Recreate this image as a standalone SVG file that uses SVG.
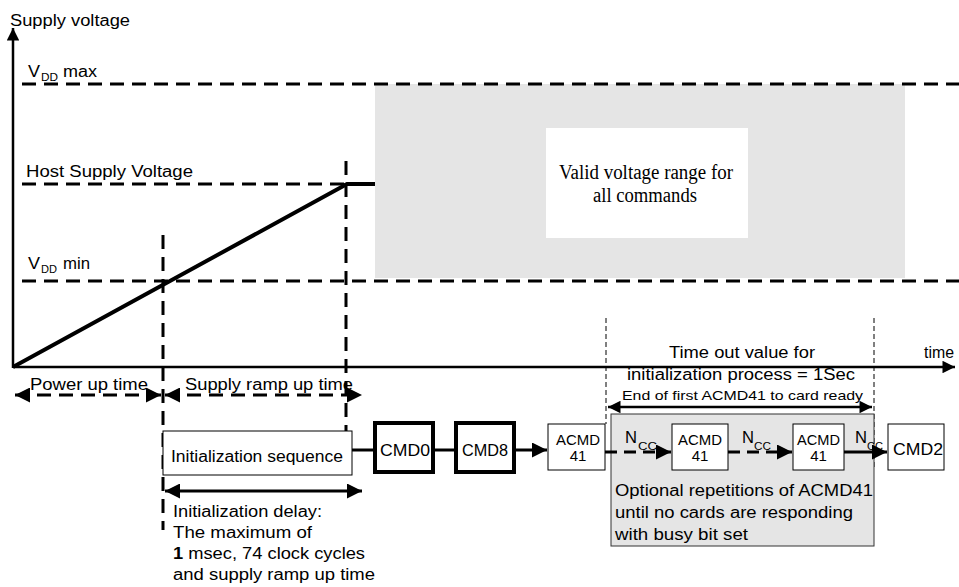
<svg xmlns="http://www.w3.org/2000/svg" width="959" height="587" viewBox="0 0 959 587">
<defs>
<marker id="ah" viewBox="0 0 10 10" refX="10" refY="5" markerWidth="6" markerHeight="5" markerUnits="strokeWidth" orient="auto-start-reverse"><path d="M0,0 L10,5 L0,10 z" fill="#000"/></marker>
<style>
text{font-family:"Liberation Sans",Arial,sans-serif;fill:#000}
.t{font-size:16px}
.s{font-size:15px}
.sub{font-size:11px}
.cc{font-size:10px}
.serif{font-family:"Liberation Serif","Times New Roman",serif;font-size:20px}
.dash{stroke:#000;stroke-width:3;stroke-dasharray:14 8;fill:none}
.thin{stroke:#000;stroke-width:1;stroke-dasharray:5 3;fill:none}
.box{fill:#fff;stroke:#000;stroke-width:1}
.bold{fill:#fff;stroke:#000;stroke-width:4}
.ln{stroke:#000;fill:none}
</style>
</defs>
<rect width="959" height="587" fill="#fff"/>
<g id="valid">
<rect x="375" y="84" width="530" height="194" fill="#e5e5e5"/>
<rect x="546" y="128" width="202" height="110" fill="#fff"/>
<text class="serif" x="559" y="179" textLength="174" lengthAdjust="spacingAndGlyphs">Valid voltage range for</text>
<text class="serif" x="593" y="202" textLength="104" lengthAdjust="spacingAndGlyphs">all commands</text>
</g>
<g id="levels">
<line class="dash" x1="22" y1="84" x2="959" y2="84"/>
<line class="dash" x1="22" y1="184" x2="347" y2="184"/>
<line class="dash" x1="22" y1="281" x2="959" y2="281"/>
<text class="t" x="10" y="26" textLength="120" lengthAdjust="spacingAndGlyphs">Supply voltage</text>
<text class="t" x="28" y="77" textLength="12" lengthAdjust="spacingAndGlyphs">V</text><text class="sub" x="41" y="81" textLength="17" lengthAdjust="spacingAndGlyphs">DD</text><text class="t" x="63" y="77" textLength="34" lengthAdjust="spacingAndGlyphs">max</text>
<text class="t" x="26" y="177" textLength="167" lengthAdjust="spacingAndGlyphs">Host Supply Voltage</text>
<text class="t" x="28" y="269" textLength="12" lengthAdjust="spacingAndGlyphs">V</text><text class="sub" x="41" y="273" textLength="16" lengthAdjust="spacingAndGlyphs">DD</text><text class="t" x="63" y="269" textLength="27" lengthAdjust="spacingAndGlyphs">min</text>
<text class="t" x="924" y="358" textLength="30" lengthAdjust="spacingAndGlyphs">time</text>
</g>
<g id="axes">
<line class="ln" stroke-width="2.5" x1="13" y1="368" x2="13" y2="28" marker-end="url(#ah)"/>
<line class="ln" stroke-width="2.5" x1="13" y1="367" x2="955" y2="367" marker-end="url(#ah)"/>
</g>
<g id="ramp">
<polyline class="ln" stroke-width="4" points="13,367 347,184 375,184"/>
<line class="dash" x1="163" y1="235" x2="163" y2="530"/>
<line class="dash" x1="346" y1="161" x2="346" y2="431"/>
</g>
<g id="spans">
<line class="dash" x1="15" y1="395" x2="161" y2="395" marker-start="url(#ah)" marker-end="url(#ah)"/>
<text class="t" x="30" y="390" textLength="118" lengthAdjust="spacingAndGlyphs">Power up time</text>
<line class="dash" x1="165" y1="395" x2="362" y2="395" marker-start="url(#ah)" marker-end="url(#ah)"/>
<text class="t" x="185" y="390" textLength="168" lengthAdjust="spacingAndGlyphs">Supply ramp up time</text>
<line class="ln" stroke-width="3" x1="165" y1="491" x2="362" y2="491" marker-start="url(#ah)" marker-end="url(#ah)"/>
<text class="t" x="173" y="517" textLength="149" lengthAdjust="spacingAndGlyphs">Initialization delay:</text>
<text class="t" x="173" y="538" textLength="139" lengthAdjust="spacingAndGlyphs">The maximum of</text>
<text class="t" x="173" y="559" textLength="192" lengthAdjust="spacingAndGlyphs"><tspan font-weight="bold">1</tspan> msec, 74 clock cycles</text>
<text class="t" x="173" y="580" textLength="202" lengthAdjust="spacingAndGlyphs">and supply ramp up time</text>
<line class="thin" x1="606" y1="318" x2="606" y2="424"/>
<line class="thin" x1="874" y1="318" x2="874" y2="470"/>
<text class="t" x="669" y="358" textLength="146" lengthAdjust="spacingAndGlyphs">Time out value for</text>
<text class="t" x="627" y="380" textLength="228" lengthAdjust="spacingAndGlyphs">initialization process = 1Sec</text>
<text x="622" y="400" font-size="13" textLength="241" lengthAdjust="spacingAndGlyphs">End of first ACMD41 to card ready</text>
<line class="ln" stroke-width="2.5" x1="608" y1="407" x2="872" y2="407" marker-start="url(#ah)" marker-end="url(#ah)"/>
</g>
<g id="optional">
<rect x="611" y="414" width="263" height="132" fill="#e5e5e5" stroke="#333" stroke-width="1"/>
<text class="t" x="615" y="496" textLength="258" lengthAdjust="spacingAndGlyphs">Optional repetitions of ACMD41</text>
<text class="t" x="615" y="518" textLength="238" lengthAdjust="spacingAndGlyphs">until no cards are responding</text>
<text class="t" x="615" y="540" textLength="133" lengthAdjust="spacingAndGlyphs">with busy bit set</text>
</g>
<g id="connectors">
<line class="ln" stroke-width="3" x1="351" y1="450" x2="375" y2="450"/>
<line class="ln" stroke-width="3" x1="433" y1="450" x2="456" y2="450"/>
<line class="ln" stroke-width="3" x1="514" y1="450" x2="547" y2="450" marker-end="url(#ah)"/>
<line class="dash" style="stroke-dasharray:12 7" x1="605" y1="452" x2="671" y2="452" marker-end="url(#ah)"/>
<line class="dash" style="stroke-dasharray:12 7" x1="728" y1="452" x2="792" y2="452" marker-end="url(#ah)"/>
<line class="ln" stroke-width="3" x1="844" y1="452" x2="887" y2="452" marker-end="url(#ah)"/>
<text class="t" x="625" y="443" textLength="12" lengthAdjust="spacingAndGlyphs">N</text><text class="cc" x="638" y="450" textLength="19" lengthAdjust="spacingAndGlyphs">CC</text>
<text class="t" x="742" y="443" textLength="12" lengthAdjust="spacingAndGlyphs">N</text><text class="cc" x="754" y="450" textLength="17" lengthAdjust="spacingAndGlyphs">CC</text>
<text class="t" x="855" y="443" textLength="12" lengthAdjust="spacingAndGlyphs">N</text><text class="cc" x="867" y="450" textLength="16" lengthAdjust="spacingAndGlyphs">CC</text>
</g>
<g id="init"><rect class="box" x="163" y="431" width="189" height="44"/><text class="t" x="171" y="462" textLength="172" lengthAdjust="spacingAndGlyphs">Initialization sequence</text></g>
<g id="cmd0"><rect class="bold" x="375" y="423" width="58" height="49"/><text class="t" x="380" y="456" textLength="50" lengthAdjust="spacingAndGlyphs">CMD0</text></g>
<g id="cmd8"><rect class="bold" x="456" y="423" width="58" height="49"/><text class="t" x="462" y="456" textLength="46" lengthAdjust="spacingAndGlyphs">CMD8</text></g>
<g id="acmd41a"><rect class="box" x="548" y="424" width="57" height="46"/><text class="s" x="556" y="445" textLength="44" lengthAdjust="spacingAndGlyphs">ACMD</text><text class="s" x="578" y="461" text-anchor="middle">41</text></g>
<g id="acmd41b"><rect class="box" x="672" y="424" width="56" height="46"/><text class="s" x="678" y="445" textLength="44" lengthAdjust="spacingAndGlyphs">ACMD</text><text class="s" x="700" y="461" text-anchor="middle">41</text></g>
<g id="acmd41c"><rect class="box" x="793" y="424" width="51" height="46"/><text class="s" x="797" y="445" textLength="43" lengthAdjust="spacingAndGlyphs">ACMD</text><text class="s" x="818.5" y="461" text-anchor="middle">41</text></g>
<g id="cmd2"><rect class="box" x="888" y="424" width="56" height="46"/><text class="t" x="893" y="455" textLength="50" lengthAdjust="spacingAndGlyphs">CMD2</text></g>
</svg>
